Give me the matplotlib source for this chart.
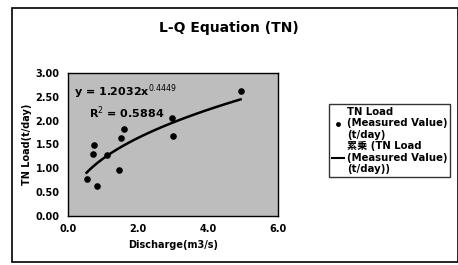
import numpy as np
import matplotlib
matplotlib.use("Agg")
import matplotlib.pyplot as plt
from matplotlib.patches import Rectangle
from matplotlib.lines import Line2D

plt.rcParams['font.family'] = ['DejaVu Sans', 'Noto Sans CJK JP']

discharge = [0.53, 0.82, 0.75, 0.72, 1.12, 1.47, 1.50, 1.60, 2.97, 2.99, 4.93]
tn_load = [0.78, 0.63, 1.50, 1.31, 1.28, 0.96, 1.63, 1.82, 2.05, 1.68, 2.62]

# Power fit shown on the chart
coef_a = 1.2032
coef_b = 0.4449
fit_label = "y = 1.2032x$^{0.4449}$"
r2_label = "R$^2$ = 0.5884"

xticks = [0.0, 2.0, 4.0, 6.0]
yticks = [0.0, 0.5, 1.0, 1.5, 2.0, 2.5, 3.0]

fig = plt.figure(figsize=(4.58, 2.65), dpi=100)
fig.patches.append(Rectangle((12 / 458, 3 / 265), 446 / 458, 254 / 265,
                             transform=fig.transFigure, fill=False,
                             edgecolor="black", linewidth=1.2))
ax = fig.add_axes([68 / 458, 1 - 216 / 265, 210 / 458, 143 / 265])
ax.set_facecolor("#bdbdbd")

ax.scatter(discharge, tn_load, s=14, color="black", zorder=3)
xf = np.linspace(min(discharge), max(discharge), 100)
ax.plot(xf, coef_a * xf ** coef_b, color="black", linewidth=1.8, zorder=2)

ax.set_xlim(0, 6)
ax.set_ylim(0, 3)
ax.set_xticks(xticks)
ax.set_xticklabels(["%.1f" % t for t in xticks], fontsize=7, fontweight="bold")
ax.set_yticks(yticks)
ax.set_yticklabels(["%.2f" % t for t in yticks], fontsize=7, fontweight="bold")
ax.tick_params(length=0, pad=6)
for s in ax.spines.values():
    s.set_linewidth(1.0)

ax.set_xlabel("Discharge(m3/s)", fontsize=7, fontweight="bold", labelpad=4)
ax.set_ylabel("TN Load(t/day)", fontsize=7, fontweight="bold", labelpad=3)
ax.text(0.03, 0.84, fit_label, transform=ax.transAxes, fontsize=8, fontweight="bold")
ax.text(0.10, 0.69, r2_label, transform=ax.transAxes, fontsize=8, fontweight="bold")

fig.text(0.5, 1 - 28 / 265, "L-Q Equation (TN)", ha="center", va="center",
         fontsize=10, fontweight="bold")

handles = [Line2D([], [], marker="o", linestyle="none", color="black", markersize=2.5),
           Line2D([], [], color="black", linewidth=1.5)]
labels = ["TN Load\n(Measured Value)\n(t/day)",
          "累乗 (TN Load\n(Measured Value)\n(t/day))"]
leg = fig.legend(handles, labels, loc="upper left",
                 bbox_to_anchor=(329 / 458, 1 - 104 / 265),
                 prop={"size": 7.3, "weight": "bold",
                       "family": ["DejaVu Sans", "Noto Sans CJK JP"]},
                 frameon=True, fancybox=False, handlelength=1.2,
                 handletextpad=0.3, borderpad=0.25, labelspacing=0.1,
                 borderaxespad=0)
leg.get_frame().set_edgecolor("black")
leg.get_frame().set_linewidth(1.0)

fig.savefig("out.png", dpi=100)
